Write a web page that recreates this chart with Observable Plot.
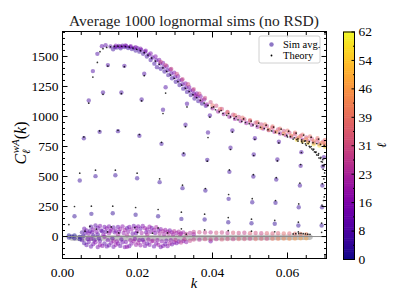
<!DOCTYPE html>
<html><head><meta charset="utf-8">
<script src="https://cdn.jsdelivr.net/npm/d3@7"></script>
<script src="https://cdn.jsdelivr.net/npm/@observablehq/plot@0.6"></script>
<style>
html,body{margin:0;padding:0;background:#fff;}
#wrap{position:relative;width:407px;height:305px;overflow:hidden;background:#fff;}
#wrap svg{position:absolute;top:0;}
</style></head><body><div id="wrap"></div>
<script>
// ---------- tick values ----------
const xMajor = [0, 0.02, 0.04, 0.06];
const xMinor = [0.005, 0.01, 0.015, 0.025, 0.03, 0.035, 0.045, 0.05, 0.055, 0.065, 0.07];
const yMajor = [0, 250, 500, 750, 1000, 1250, 1500];
const yMinor = [-150, -100, -50, 50, 100, 150, 200, 300, 350, 400, 450, 550, 600, 650, 700, 800, 850, 900, 950, 1050, 1100, 1150, 1200, 1300, 1350, 1400, 1450, 1550, 1600, 1650, 1700];
const cbTicks = [0, 7.75, 15.5, 23.25, 31, 38.75, 46.5, 54.25, 62];
const cbLabels = ["0", "8", "16", "23", "31", "39", "46", "54", "62"];
const cbMinor = [3.875, 11.625, 19.375, 27.125, 34.875, 42.625, 50.375, 58.125];

// ---------- isolated sim rows (k, sim avg, theory) ----------
const rowAK = [0.0032, 0.0077, 0.0134, 0.0195, 0.0255, 0.0317, 0.0379, 0.0442, 0.0504, 0.0566, 0.0629, 0.0691];
const rowASim = [169, 189, 194, 181, 169, 147, 142, 119, 111, 106, 92, 92];
const rowATh = [250, 253, 253, 242, 225, 203, 186, 158, 145, 135, 120, 112];
const rowBK = [0.0046, 0.0088, 0.0141, 0.0199, 0.0259, 0.0320, 0.0381, 0.0443, 0.0506, 0.0568, 0.0630, 0.0692];
const rowBSim = [467, 503, 511, 486, 453, 403, 383, 314, 286, 281, 244, 244];
const rowBTh = [528, 553, 553, 528, 481, 428, 400, 350, 315, 300, 272, 262];
const rowCK = [0.0057, 0.0099, 0.0148, 0.0205, 0.0264, 0.0323, 0.0386, 0.0445, 0.0509, 0.0570, 0.0633, 0.0693];
const rowCSim = [819, 872, 878, 839, 772, 683, 639, 539, 500, 475, 425, 425];
const rowCTh = [830, 880, 885, 850, 785, 695, 628, 555, 515, 490, 445, 440];
const rowDK = [0.0070, 0.0108, 0.0157, 0.0211, 0.0268, 0.0328, 0.0388, 0.0448, 0.0510, 0.0573, 0.0635, 0.0694];
const rowDSim = [1133, 1200, 1200, 1142, 1056, 931, 867, 739, 683, 642, 589, 583];
const rowDTh = [1111, 1185, 1190, 1130, 1025, 915, 825, 725, 675, 630, 600, 590];
const rowEK = [0.0081, 0.0093, 0.0121, 0.0165, 0.0218, 0.0275, 0.0332, 0.0393, 0.0453, 0.0513, 0.0577, 0.0637, 0.0697];
const rowESim = [1378, 1522, 1428, 1422, 1356, 1244, 1106, 1008, 883, 819, 790, 703, 660];
const rowETh = [1328, 1450, 1420, 1415, 1340, 1195, 1080, 995, 870, 810, 780, 700, 650];
const rowZeroK = [0.0017, 0.0073, 0.0130, 0.0193, 0.0255, 0.0317, 0.0379, 0.0442, 0.0504, 0.0566, 0.0629, 0.0691];
const rowZeroTh = [100, 85, 80, 75, 72, 64, 56, 50, 45, 40, 38, 35];

// ---------- main envelope, sim avg by multipole ----------
const curveL5 = [[0.0135,1560],[0.0145,1575],[0.0155,1568],[0.0165,1578],[0.0175,1570],[0.0185,1562],[0.0195,1550],[0.0205,1540],[0.0215,1522],[0.0225,1500],[0.0235,1470],[0.0245,1440],[0.0252,1411],[0.0262,1398],[0.0272,1375],[0.0282,1345],[0.0292,1318],[0.0302,1290],[0.0312,1262],[0.0322,1232],[0.0332,1205],[0.0342,1178],[0.0352,1150],[0.0362,1128],[0.0372,1108],[0.0382,1090]];
const curveL9 = [[0.0105,1586],[0.0115,1594],[0.0128,1583],[0.0140,1578],[0.0150,1588],[0.0160,1590],[0.0170,1585],[0.0180,1580],[0.0190,1572],[0.0200,1568],[0.0210,1555],[0.0220,1540],[0.0230,1515],[0.0240,1492],[0.0250,1468],[0.0260,1440],[0.0270,1412],[0.0280,1385],[0.0290,1358],[0.0300,1330],[0.0310,1300],[0.0320,1270],[0.0330,1242],[0.0340,1215],[0.0350,1190],[0.0360,1165]];
const curveL14 = [[0.0142,1590],[0.0155,1582],[0.0168,1592],[0.0182,1586],[0.0195,1578],[0.0208,1565],[0.0222,1548],[0.0235,1525],[0.0248,1500],[0.0258,1470],[0.0268,1445],[0.0278,1418],[0.0288,1392],[0.0298,1365],[0.0308,1335],[0.0318,1305],[0.0328,1275],[0.0338,1245],[0.0348,1218],[0.0358,1192],[0.0368,1168],[0.0378,1142]];
const curveL20 = [[0.0355,1175],[0.0370,1135],[0.0385,1100],[0.0400,1068],[0.0415,1042],[0.0430,1020],[0.0445,998],[0.0460,980],[0.0475,962],[0.0490,946],[0.0505,930],[0.0520,915],[0.0535,900],[0.0550,886],[0.0565,872],[0.0580,858],[0.0595,845],[0.0610,832],[0.0625,818],[0.0640,805],[0.0655,793],[0.0670,781],[0.0685,770],[0.0700,760]];
const curveL30 = [[0.0262,1455],[0.0275,1428],[0.0290,1395],[0.0305,1355],[0.0320,1310],[0.0335,1268],[0.0350,1228],[0.0365,1190],[0.0380,1155],[0.0395,1120],[0.0410,1090],[0.0425,1062],[0.0440,1038],[0.0455,1015],[0.0470,996],[0.0485,978],[0.0500,962],[0.0515,948],[0.0530,934],[0.0545,920],[0.0560,906],[0.0575,892],[0.0590,880],[0.0605,866],[0.0620,852],[0.0635,838],[0.0650,825],[0.0665,812],[0.0680,800],[0.0695,790]];
const curveL38 = [[0.0400,1092],[0.0420,1062],[0.0440,1034],[0.0460,1010],[0.0480,990],[0.0500,970],[0.0520,952],[0.0540,934],[0.0560,916],[0.0580,899],[0.0600,882],[0.0620,866],[0.0640,849],[0.0660,834],[0.0680,819],[0.0700,804]];
const curveL46 = [[0.0530,905],[0.0550,890],[0.0570,873],[0.0590,857],[0.0610,841],[0.0630,825],[0.0650,810],[0.0670,795],[0.0690,780],[0.0700,773]];
const curveL58 = [[0.0625,806],[0.0640,793],[0.0655,780],[0.0670,768],[0.0685,758],[0.0700,748]];

// ---------- near-zero sims [k, value, ell] ----------
const zeroPts = [[0.0017,8,0],[0.0017,-8,1],[0.0025,0,1],[0.0032,10,0],[0.0032,-15,2],[0.0046,-3,1],[0.0046,-22,2],
[0.0052,35,6],[0.0052,-30,8],[0.0058,65,10],[0.0058,-55,7],[0.0064,50,12],[0.0064,-70,9],[0.0070,25,14],[0.0070,-45,11],[0.0076,82,8],[0.0076,-18,13],[0.0076,-83,10],[0.0082,58,15],[0.0082,8,6],[0.0082,-62,12],[0.0088,92,9],[0.0088,-48,16],[0.0094,72,11],[0.0094,18,7],[0.0094,-88,13],[0.0100,88,14],[0.0100,-38,10],[0.0100,-68,17],[0.0106,45,8],[0.0106,-78,15],[0.0112,80,12],[0.0112,-2,18],[0.0112,-58,9],[0.0118,68,16],[0.0118,-82,11],[0.0124,85,13],[0.0124,28,19],[0.0124,-72,10],[0.0130,58,17],[0.0130,-52,14],[0.0136,75,9],[0.0136,-38,20],[0.0136,-86,12],[0.0142,48,15],[0.0142,-68,18],[0.0148,80,11],[0.0148,18,21],[0.0148,-58,13],[0.0154,62,19],[0.0154,-78,10],[0.0160,85,16],[0.0160,-48,12],[0.0166,55,20],[0.0166,-88,14],[0.0172,70,9],[0.0172,10,22],[0.0172,-85,17],[0.0178,80,13],[0.0178,-80,11],[0.0184,60,18],[0.0184,-58,15],[0.0190,88,12],[0.0190,-38,20],[0.0196,72,16],[0.0196,28,10],[0.0196,-68,19],[0.0202,85,14],[0.0202,-52,21],[0.0208,65,11],[0.0208,-72,17],[0.0214,88,15],[0.0214,-28,12],[0.0220,70,19],[0.0220,-78,13],[0.0226,58,16],[0.0226,18,22],[0.0226,-58,10],[0.0232,82,18],[0.0232,-68,14],[0.0238,72,12],[0.0238,-40,20],[0.0244,55,17],[0.0244,-82,11],[0.0250,78,21],[0.0250,-58,15],[0.0256,50,13],[0.0256,-68,19],[0.0262,62,16],[0.0262,-88,12],[0.0268,45,22],[0.0268,-78,14],[0.0274,55,18],[0.0274,-62,10],[0.0280,40,20],[0.0280,-80,15],[0.0286,50,13],[0.0286,-58,21],[0.0292,35,17],[0.0292,-65,11],[0.0298,45,24],[0.0298,-48,16],[0.0304,30,19],[0.0304,-55,13],[0.0310,40,22],[0.0310,-42,15],[0.0316,25,18],[0.0316,-50,25],[0.0322,35,20],[0.0322,-38,14],[0.0330,22,26],[0.0330,-45,17],[0.0340,30,23],[0.0340,-35,28],[0.0350,20,19],
[0.0055,5,5],[0.0061,30,9],[0.0067,-20,11],[0.0073,45,7],[0.0079,35,12],[0.0085,-30,9],[0.0091,40,14],[0.0097,-15,8],[0.0103,50,11],[0.0109,15,15],[0.0115,40,10],[0.0121,-30,13],[0.0127,45,16],[0.0133,-15,9],[0.0139,35,12],[0.0145,-40,17],[0.0151,40,14],[0.0157,-25,11],[0.0163,30,18],[0.0169,-45,13],[0.0175,40,16],[0.0181,-30,19],[0.0187,25,12],[0.0193,-20,15],[0.0199,45,18],[0.0205,-30,13],[0.0211,30,20],[0.0217,-45,16],[0.0223,35,12],[0.0229,-25,19],[0.0235,40,15],[0.0241,-35,21],[0.0247,30,14],[0.0253,-30,18],[0.0259,25,22],[0.0265,-40,16],[0.0271,20,20],[0.0277,-35,13],[0.0283,25,24],[0.0289,-30,17],[0.0295,15,21],[0.0301,-28,25],[0.0313,18,23],[0.0325,-22,27],
[0.0350,38,26],[0.0350,-25,28],[0.0365,36,30],[0.0365,-26,24],[0.0380,34,28],[0.0380,-22,31],[0.0395,35,25],[0.0395,-40,12],[0.0395,-24,30],[0.0410,32,32],[0.0410,-22,27],[0.0425,34,29],[0.0425,-24,33],[0.0440,30,27],[0.0440,-20,31],[0.0455,32,33],[0.0455,-22,28],[0.0470,29,30],[0.0470,-20,35],[0.0485,31,28],[0.0485,-21,32],[0.0500,28,34],[0.0500,-19,29],[0.0515,30,31],[0.0515,-20,37],[0.0530,27,29],[0.0530,-18,34],[0.0545,28,35],[0.0545,-19,31],[0.0560,26,33],[0.0560,-18,39],[0.0575,27,34],[0.0575,-19,41],[0.0590,25,37],[0.0590,-17,43],[0.0605,25,35],[0.0605,-18,44],[0.0620,23,38],[0.0620,-16,46],[0.0635,21,40],[0.0635,-15,47],[0.0650,19,42],[0.0650,-14,48]];

// ---------- theory ----------
const thCurve = [[0.0100,1540],[0.0108,1565],[0.0118,1575],[0.0128,1580],[0.0138,1584],[0.0148,1586],[0.0158,1585],[0.0168,1583],[0.0178,1578],[0.0188,1570],[0.0198,1560],[0.0208,1548],[0.0218,1532],[0.0228,1512],[0.0238,1488],[0.0248,1462],[0.0258,1435],[0.0268,1405],[0.0278,1375],[0.0288,1345],[0.0298,1318],[0.0308,1290],[0.0318,1262],[0.0328,1235],[0.0338,1208],[0.0348,1182],[0.0358,1158],[0.0368,1135],[0.0378,1112],[0.0388,1092],[0.0398,1073],[0.0408,1056],[0.0418,1040],[0.0428,1025],[0.0438,1010],[0.0448,996],[0.0458,983],[0.0468,972],[0.0478,960],[0.0488,950],[0.0498,940],[0.0508,930],[0.0518,920],[0.0528,910],[0.0538,900],[0.0548,890],[0.0558,880],[0.0568,870],[0.0578,860],[0.0588,850],[0.0598,842],[0.0608,832],[0.0618,823],[0.0628,814],[0.0638,805],[0.0648,797],[0.0658,790],[0.0668,782],[0.0678,775],[0.0688,768],[0.0698,760]];
const thUpper = [[0.0403,1080],[0.0423,1050],[0.0443,1025],[0.0463,1000],[0.0483,980],[0.0503,962],[0.0523,945],[0.0543,928],[0.0563,912],[0.0583,895],[0.0603,878],[0.0623,862],[0.0643,845],[0.0663,828],[0.0683,812]];
const thStreaks = [[0.0600,830],[0.0615,812],[0.0628,795],[0.0640,778],[0.0650,760],[0.0660,742],[0.0668,720],[0.0675,700],[0.0682,678],[0.0688,650],[0.0693,620],[0.0697,590],
[0.0625,808],[0.0638,790],[0.0648,772],[0.0658,752],[0.0665,730],[0.0672,705],[0.0678,680],[0.0684,655],[0.0690,625],[0.0695,560],[0.0699,530],
[0.0645,795],[0.0655,775],[0.0663,750],[0.0670,728],[0.0676,705],[0.0683,690],[0.0689,660],[0.0694,640],[0.0698,600],
[0.0697,480],[0.0699,400],[0.0698,330],[0.0696,300]];
const thZero = [[0.0615,22],[0.0622,24],[0.0630,25],[0.0636,26],[0.0642,24],[0.0648,22],[0.0654,20],[0.0660,18],[0.0060,45],[0.0090,62],[0.0120,38],[0.0150,30],[0.0200,35],[0.0240,28],[0.0280,30],[0.0330,20]];

// grey band around zero
const bandK = [0.0025, 0.035, 0.066];
const bandC = [-12, -10, -5];

// ---------- assemble ----------
const sims = [];
const addRow = (ks, cs, l) => ks.forEach((k, i) => sims.push({k, c: cs[i], l}));
addRow(rowAK, rowASim, 3); addRow(rowBK, rowBSim, 4); addRow(rowCK, rowCSim, 5);
addRow(rowDK, rowDSim, 6); addRow(rowEK, rowESim, 7);
[[curveL5,5],[curveL9,9],[curveL14,14],[curveL20,20],[curveL30,30],[curveL38,38],[curveL46,46],[curveL58,58]]
  .forEach(([pts, l]) => pts.forEach(([k, c]) => sims.push({k, c, l})));
zeroPts.forEach(([k, c, l]) => sims.push({k, c, l}));
sims.sort((a, b) => a.l - b.l);

const theory = [];
const addTh = (ks, cs) => ks.forEach((k, i) => theory.push({k, c: cs[i]}));
addTh(rowAK, rowATh); addTh(rowBK, rowBTh); addTh(rowCK, rowCTh); addTh(rowDK, rowDTh); addTh(rowEK, rowETh); addTh(rowZeroK, rowZeroTh);
[thCurve, thUpper, thStreaks, thZero].forEach(a => a.forEach(([k, c]) => theory.push({k, c})));
const band = bandK.map((k, i) => ({k, c: bandC[i]}));

const serif = '"Liberation Serif", "DejaVu Serif", serif';
const color = {type: "linear", scheme: "plasma", domain: [0, 62]};
const blank = () => "";

const main = Plot.plot({
  width: 407, height: 305,
  marginLeft: 62, marginRight: 81, marginTop: 31, marginBottom: 47,
  style: {background: "transparent", fontFamily: serif, fontSize: "13.5px", overflow: "visible"},
  x: {domain: [0, 0.0704], label: null},
  y: {domain: [-183, 1708], label: null},
  color,
  marks: [
    Plot.line(band, {x: "k", y: "c", stroke: "#c2c2c2", strokeWidth: 5.5}),
    Plot.dot(sims, {x: "k", y: "c", r: 2.2, fill: "l", fillOpacity: 0.47}),
    Plot.dot(theory, {x: "k", y: "c", r: 0.85, fill: "black", fillOpacity: 0.8}),
    Plot.ruleY([0], {stroke: "#8c8c8c", strokeWidth: 1}),
    Plot.frame({stroke: "black", strokeWidth: 1}),
    Plot.axisX(xMajor, {anchor: "bottom", tickSize: 0, tickPadding: 9, tickFormat: d3.format(".2f"), fontSize: 13.5, label: null}),
    Plot.axisX(xMajor, {anchor: "bottom", tickSize: 5.5, dy: -5.5, tickFormat: blank, label: null}),
    Plot.axisX(xMinor, {anchor: "bottom", tickSize: 3, dy: -3, tickFormat: blank, label: null}),
    Plot.axisX(xMajor, {anchor: "top", tickSize: 5.5, dy: 5.5, tickFormat: blank, label: null}),
    Plot.axisX(xMinor, {anchor: "top", tickSize: 3, dy: 3, tickFormat: blank, label: null}),
    Plot.axisY(yMajor, {anchor: "left", tickSize: 0, tickPadding: 4, tickFormat: d => String(d), fontSize: 13.5, label: null}),
    Plot.axisY(yMajor, {anchor: "left", tickSize: 5.5, dx: 5.5, tickFormat: blank, label: null}),
    Plot.axisY(yMinor, {anchor: "left", tickSize: 3, dx: 3, tickFormat: blank, label: null}),
    Plot.axisY(yMajor, {anchor: "right", tickSize: 5.5, dx: -5.5, tickFormat: blank, label: null}),
    Plot.axisY(yMinor, {anchor: "right", tickSize: 3, dx: -3, tickFormat: blank, label: null})
  ]
});
main.style.left = "0px";
document.getElementById("wrap").appendChild(main);

const cbCells = d3.range(0, 62, 0.5);
const cb = Plot.plot({
  width: 77, height: 305,
  marginLeft: 13, marginRight: 53, marginTop: 31.5, marginBottom: 46,
  style: {background: "transparent", fontFamily: serif, fontSize: "13.5px", overflow: "visible"},
  x: {domain: [0, 1], axis: null},
  y: {domain: [0, 62], label: null},
  color,
  marks: [
    Plot.rect(cbCells, {x1: 0, x2: 1, y1: d => d, y2: d => Math.min(62, d + 0.65), fill: d => d + 0.25}),
    Plot.frame({stroke: "black", strokeWidth: 1}),
    Plot.axisY(cbTicks, {anchor: "right", tickSize: 0, tickPadding: 4, tickFormat: d => cbLabels[cbTicks.indexOf(d)], fontSize: 13.5, label: null}),
    Plot.axisY(cbTicks, {anchor: "right", tickSize: 3.5, dx: -3.5, tickFormat: blank, label: null}),
    Plot.axisY(cbMinor, {anchor: "right", tickSize: 2, dx: -2, tickFormat: blank, label: null})
  ]
});
cb.style.left = "330px";
document.getElementById("wrap").appendChild(cb);

// ---------- text annotations ----------
const svg = d3.select(main);
svg.append("text").attr("x", 194).attr("y", 26).attr("text-anchor", "middle")
  .attr("font-family", serif).attr("font-size", 15.5).attr("fill", "#222")
  .text("Average 1000 lognormal sims (no RSD)");
svg.append("text").attr("x", 194).attr("y", 288).attr("text-anchor", "middle")
  .attr("font-family", serif).attr("font-size", 14.5).attr("font-style", "italic").text("k");
const yl = svg.append("text").attr("transform", "translate(26,143) rotate(-90)")
  .attr("text-anchor", "middle").attr("font-family", serif).attr("font-size", 16);
yl.append("tspan").attr("font-style", "italic").text("C");
yl.append("tspan").attr("font-size", 11).attr("dy", 3.5).attr("font-style", "italic").attr("font-family", '"DejaVu Serif", serif').text("ℓ");
yl.append("tspan").attr("font-size", 11).attr("dy", -10.5).attr("dx", -4).attr("font-style", "italic").text("wA");
yl.append("tspan").attr("dy", 7).text("(");
yl.append("tspan").attr("font-style", "italic").text("k");
yl.append("tspan").text(")");

// legend
const lg = svg.append("g").attr("text-anchor", "start");
lg.append("rect").attr("x", 259).attr("y", 36).attr("width", 61).attr("height", 27).attr("rx", 2)
  .attr("fill", "white").attr("fill-opacity", 0.8).attr("stroke", "#d0d0d0");
lg.append("circle").attr("cx", 271.5).attr("cy", 44.5).attr("r", 2.2).attr("fill", d3.interpolatePlasma(0.06)).attr("fill-opacity", 0.55);
lg.append("circle").attr("cx", 271.5).attr("cy", 55.5).attr("r", 0.9).attr("fill", "black");
lg.append("text").attr("x", 283).attr("y", 48.3).attr("text-anchor", "start").attr("font-family", serif).attr("font-size", 10.5).text("Sim avg.");
lg.append("text").attr("x", 283).attr("y", 59).attr("text-anchor", "start").attr("font-family", serif).attr("font-size", 10.5).text("Theory");

// colorbar label
d3.select(cb).append("text").attr("transform", "translate(56,145) rotate(-90)").attr("text-anchor", "middle")
  .attr("font-family", '"DejaVu Serif", serif').attr("font-style", "italic").attr("font-size", 13).text("ℓ");
</script></body></html>
